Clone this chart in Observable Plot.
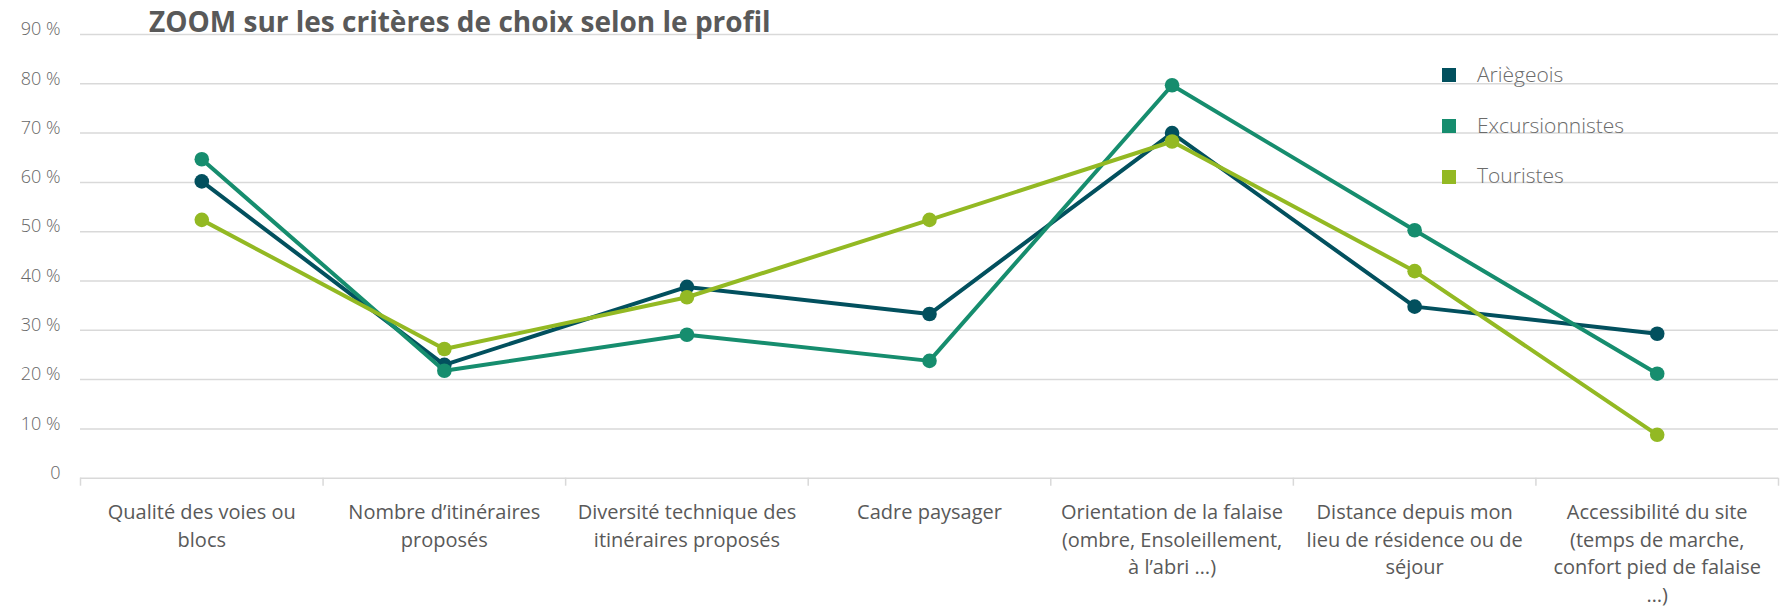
<!DOCTYPE html>
<html>
<head>
<meta charset="utf-8">
<script src="https://cdn.jsdelivr.net/npm/d3@7"></script>
<script src="https://cdn.jsdelivr.net/npm/@observablehq/plot@0.6"></script>
<style>
  html, body { margin: 0; padding: 0; background: #fff; }
  #wrap { position: relative; width: 1782px; height: 608px; font-family: "Open Sans", sans-serif; }
  #title { position: absolute; left: 149px; top: 2px; font-size: 28px; line-height: 38px; font-weight: 700; color: #595959; white-space: nowrap; }
  .leg-sw { position: absolute; width: 14px; height: 14px; }
  .leg-tx { position: absolute; font-size: 21px; line-height: 29px; font-weight: 300; color: #6b6b6b; white-space: nowrap; }
</style>
</head>
<body>
<div id="wrap">
  <div id="chart"></div>
  <div id="title">ZOOM sur les critères de choix selon le profil</div>
</div>
<script>
// ---- Data ----
const categories = [
  "Qualité des voies ou\nblocs",
  "Nombre d’itinéraires\nproposés",
  "Diversité technique des\nitinéraires proposés",
  "Cadre paysager",
  "Orientation de la falaise\n(ombre, Ensoleillement,\nà l’abri …)",
  "Distance depuis mon\nlieu de résidence ou de\nséjour",
  "Accessibilité du site\n(temps de marche,\nconfort pied de falaise\n…)"
];
const seriesNames = ["Ariègeois", "Excursionnistes", "Touristes"];
const ariegeois       = [60.2, 23.0, 38.8, 33.3, 70.0, 34.8, 29.3];
const excursionnistes = [64.7, 21.8, 29.1, 23.8, 79.7, 50.3, 21.2];
const touristes       = [52.4, 26.2, 36.7, 52.4, 68.3, 42.0, 8.8];
const seriesColors = ["#02505e", "#168d6e", "#93b923"];
const yTicks = [0, 10, 20, 30, 40, 50, 60, 70, 80, 90];
const yTickLabels = ["0", "10 %", "20 %", "30 %", "40 %", "50 %", "60 %", "70 %", "80 %", "90 %"];

// ---- Build table ----
const seriesValues = [ariegeois, excursionnistes, touristes];
const rows = [];
seriesValues.forEach((vals, s) => {
  vals.forEach((v, i) => rows.push({series: seriesNames[s], i, value: v}));
});
const boundaries = d3.range(categories.length + 1).map(k => k - 0.5);

const seriesMarks = seriesNames.flatMap(name => {
  const data = rows.filter(r => r.series === name);
  return [
    Plot.line(data, {x: "i", y: "value", stroke: "series", strokeWidth: 4, strokeLinejoin: "round"}),
    Plot.dot(data, {x: "i", y: "value", fill: "series", r: 7.3, stroke: "none"})
  ];
});

const chart = Plot.plot({
  width: 1782,
  height: 608,
  marginLeft: 80,
  marginRight: 4,
  marginTop: 34,
  marginBottom: 130.3,
  x: {type: "linear", domain: [-0.5, categories.length - 0.5], axis: null},
  y: {domain: [0, 90], axis: null},
  color: {domain: seriesNames, range: seriesColors},
  style: {fontFamily: "'Open Sans', sans-serif", background: "transparent", overflow: "visible"},
  marks: [
    Plot.ruleY(yTicks, {y: d => d, stroke: "#d9d9d9", strokeWidth: 1.5}),
    Plot.ruleX(boundaries, {x: d => d, y1: () => 0, y2: () => 0, insetBottom: -8, stroke: "#d9d9d9", strokeWidth: 1.5}),
    Plot.text(yTicks, {y: d => d, text: (d, i) => yTickLabels[i], frameAnchor: "left", textAnchor: "end", dx: -20, dy: -5, fontSize: 18, fontWeight: 300, fill: "#666666"}),
    Plot.text(categories, {x: (d, i) => i, text: d => d, frameAnchor: "bottom", lineAnchor: "top", dy: 21, fontSize: 20, lineHeight: 1.385, fill: "#595959"}),
    ...seriesMarks
  ]
});
document.getElementById("chart").appendChild(chart);

// ---- Legend ----
const wrap = document.getElementById("wrap");
seriesNames.forEach((name, k) => {
  const baseline = 82.3 + k * 50.85;
  const sw = document.createElement("div");
  sw.className = "leg-sw";
  sw.style.left = "1442px";
  sw.style.top = (baseline - 14.3) + "px";
  sw.style.background = seriesColors[k];
  wrap.appendChild(sw);
  const tx = document.createElement("div");
  tx.className = "leg-tx";
  tx.style.left = "1477px";
  tx.style.top = (baseline - 22.65) + "px";
  tx.textContent = name;
  wrap.appendChild(tx);
});
</script>
</body>
</html>
